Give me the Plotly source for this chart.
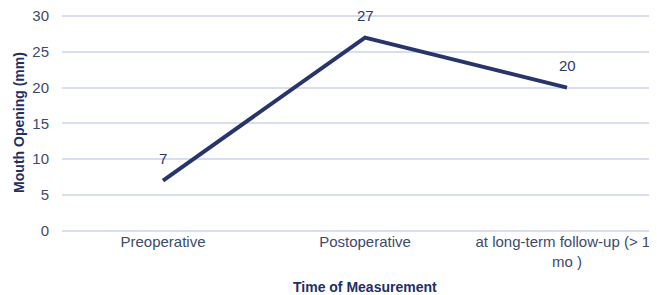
import plotly.graph_objects as go

categories = ["Preoperative", "Postoperative", "at long-term follow-up (> 12<br>mo )"]
values = [7, 27, 20]
labels = ["7", "27", "20"]
y_ticks = [0, 5, 10, 15, 20, 25, 30]

x_pos = list(range(len(categories)))
FONT = "Liberation Sans, Arial"

fig = go.Figure()
fig.add_trace(go.Scatter(
    x=x_pos, y=values, mode="lines",
    line=dict(color="#27356B", width=4),
    hoverinfo="skip",
))

for xi, yi, lab in zip(x_pos, values, labels):
    fig.add_annotation(
        x=xi, y=yi, xref="x", yref="y", text=lab, showarrow=False,
        yshift=22, yanchor="middle",
        font=dict(family=FONT, size=15, color="#2B3A67"),
    )

fig.update_layout(
    width=649, height=287,
    margin=dict(l=54, r=0, t=6, b=64),
    plot_bgcolor="white", paper_bgcolor="white",
    showlegend=False,
    font=dict(family=FONT, size=15, color="#44506E"),
    xaxis=dict(
        range=[-0.5, -0.5 + 595 / 202],
        tickmode="array", tickvals=x_pos, ticktext=categories,
        showgrid=False, zeroline=False, showline=False,
        tickfont=dict(size=15, color="#3D4A6B"),
        automargin=False, ticklabeloverflow="allow",
    ),
    yaxis=dict(
        range=[-0.05, 30.3], tickvals=y_ticks,
        showgrid=True, gridcolor="#D9DEEE", gridwidth=1.5,
        zeroline=True, zerolinecolor="#D9DEEE", zerolinewidth=1.5,
        showline=False, ticklabelstandoff=12,
        tickfont=dict(size=15, color="#3D4A6B"),
        automargin=False, ticklabeloverflow="allow",
        title=dict(text="<b>Mouth Opening (mm)</b>", standoff=4,
                   font=dict(size=14, color="#1F2F63")),
    ),
)

fig.add_annotation(
    x=1, y=0, xref="x", yref="paper",
    text="<b>Time of Measurement</b>", showarrow=False,
    yshift=-56, yanchor="middle",
    font=dict(family=FONT, size=14, color="#1F2F63"),
)

fig.write_html("out.html")
